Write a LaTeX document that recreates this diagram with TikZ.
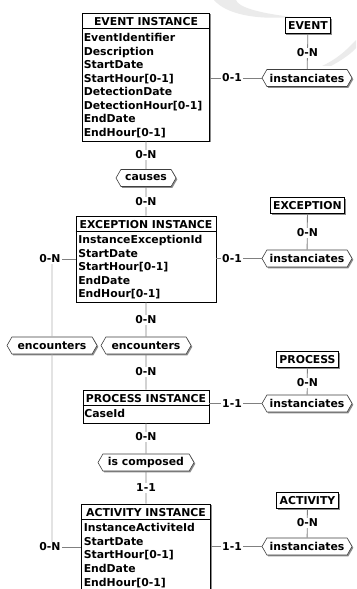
\documentclass[tikz,border=0pt]{standalone}
\usepackage{fontspec}
\setmainfont{DejaVu Sans}
\usetikzlibrary{shapes.symbols,shadows}
\begin{document}
\begin{tikzpicture}[x=1bp,y=-1bp]
\tikzset{
 txt/.style={font=\fontsize{10.9}{13.5}\selectfont\bfseries, text=black},
 shad/.style={drop shadow={shadow xshift=1.3bp, shadow yshift=-1.3bp, fill=black!45, opacity=1}},
 entbox/.style={draw=black, line width=0.8bp, fill=white, inner sep=0pt, shad},
 smallent/.style={entbox, txt, inner xsep=3bp, inner ysep=0pt, minimum height=16bp},
 rel/.style={signal, signal to=east and west, signal pointer angle=120, draw=black!75, line width=0.6bp, fill=white, txt, inner xsep=2bp, inner ysep=0pt, minimum height=17bp, shad},
 lab/.style={txt, fill=white, inner sep=1bp},
 conn/.style={draw=black!50, line width=0.8bp},
 connlight/.style={draw=black!30, line width=0.8bp},
 hdr/.style={txt, inner sep=0pt, anchor=base},
 attr/.style={txt, inner sep=0pt, anchor=base west},
 sepline/.style={draw=black, line width=0.8bp},
}
\useasboundingbox (0,0) rectangle (356,589);
\fill[white] (0,0) rectangle (356,589);
% watermark swooshes (light)
\fill[black!8] (214,0) .. controls (226,14) and (255,20) .. (292,17) .. controls (258,13) and (238,7) .. (236,0) -- cycle;
\fill[black!8] (356,40) .. controls (345,52) and (335,60) .. (322,66) -- (331,66) .. controls (342,60) and (352,53) .. (356,48) -- cycle;

% EVENT INSTANCE
\node[entbox, minimum width=127bp, minimum height=128bp] (ei) at (146,77) {};
\node[hdr] (eih) at ([yshift=-13.2bp]ei.north) {EVENT INSTANCE};
\draw[sepline] ([yshift=-16bp]ei.north west) -- ([yshift=-16bp]ei.north east);
\foreach \t [count=\i] in {{EventIdentifier},{Description},{StartDate},{StartHour[0-1]},{DetectionDate},{DetectionHour[0-1]},{EndDate},{EndHour[0-1]}}
  \node[attr] (ei-a\i) at ([xshift=1.5bp, yshift={-29bp-(\i-1)*13.5bp}]ei.north west) {\t};

% EXCEPTION INSTANCE
\node[entbox, minimum width=140bp, minimum height=86bp] (exi) at (146,259) {};
\node[hdr] (exih) at ([yshift=-13bp]exi.north) {EXCEPTION INSTANCE};
\draw[sepline] ([yshift=-15.5bp]exi.north west) -- ([yshift=-15.5bp]exi.north east);
\foreach \t [count=\i] in {{InstanceExceptionId},{StartDate},{StartHour[0-1]},{EndDate},{EndHour[0-1]}}
  \node[attr] (exi-a\i) at ([xshift=2.5bp, yshift={-28bp-(\i-1)*13.5bp}]exi.north west) {\t};

% PROCESS INSTANCE
\node[entbox, minimum width=126bp, minimum height=33bp] (pi) at (146,406.5) {};
\node[hdr] (pih) at ([yshift=-12.8bp]pi.north) {PROCESS INSTANCE};
\draw[sepline] ([yshift=-16bp]pi.north west) -- ([yshift=-16bp]pi.north east);
\node[attr] (pi-a1) at ([xshift=1.5bp, yshift=-27.5bp]pi.north west) {CaseId};

% ACTIVITY INSTANCE
\node[entbox, minimum width=129bp, minimum height=86bp] (ai) at (146,547) {};
\node[hdr] (aih) at ([yshift=-13bp]ai.north) {ACTIVITY INSTANCE};
\draw[sepline] ([yshift=-16bp]ai.north west) -- ([yshift=-16bp]ai.north east);
\foreach \t [count=\i] in {{InstanceActiviteId},{StartDate},{StartHour[0-1]},{EndDate},{EndHour[0-1]}}
  \node[attr] (ai-a\i) at ([xshift=2.5bp, yshift={-28bp-(\i-1)*13.6bp}]ai.north west) {\t};

% small entities
\node[smallent] (ev) at (308,25.5) {EVENT};
\node[smallent] (exc) at (307.5,205.5) {EXCEPTION};
\node[smallent] (proc) at (307.5,359.5) {PROCESS};
\node[smallent] (act) at (307.5,500.5) {ACTIVITY};

% relations
\node[rel, minimum width=90bp] (evh) at (307,78) {instanciates};
\node[rel, minimum width=90bp] (exh) at (307,258.5) {instanciates};
\node[rel, minimum width=90bp] (prh) at (307,403.5) {instanciates};
\node[rel, minimum width=90bp] (ach) at (307,546.5) {instanciates};
\node[rel, minimum width=60bp] (cau) at (146,178) {causes};
\node[rel, minimum width=90bp] (enc) at (146,345.5) {encounters};
\node[rel, minimum width=90bp] (lenc) at (52,345.5) {encounters};
\node[rel, minimum width=96bp] (comp) at (146,462.5) {is composed};

% connectors
\draw[conn] (ei) -- (cau) -- (exi) -- (enc) -- (pi) -- (comp) -- (ai);
\draw[conn] (ev) -- (evh);
\draw[conn] (exc) -- (exh);
\draw[conn] (proc) -- (prh);
\draw[conn] (act) -- (ach);
\draw[conn] (evh.west) -- (evh.west -| ei.east);
\draw[conn] (exh.west) -- (exh.west -| exi.east);
\draw[conn] (prh.west) -- (prh.west -| pi.east);
\draw[conn] (ach.west) -- (ach.west -| ai.east);
\coordinate (lc1) at (52,259);
\coordinate (lc2) at (52,547);
\draw[conn] (exi.west) -- (lc1);
\draw[connlight] (lc1) -- (lenc) -- (lc2);
\draw[conn] (lc2) -- (ai.west);

% cardinality labels
\node[lab] (c1) at (146,155) {0-N};
\node[lab] (c2) at (146,202) {0-N};
\node[lab] (c3) at (146,320) {0-N};
\node[lab] (c4) at (146,372) {0-N};
\node[lab] (c5) at (146,437) {0-N};
\node[lab] (c6) at (146,488) {1-1};
\node[lab] (r1) at (307.5,53) {0-N};
\node[lab] (r2) at (307.5,233) {0-N};
\node[lab] (r3) at (307.5,383) {0-N};
\node[lab] (r4) at (307.5,523) {0-N};
\node[lab] (h1) at (232,78) {0-1};
\node[lab] (h2) at (232,258.5) {0-1};
\node[lab] (h3) at (232,403.5) {1-1};
\node[lab] (h4) at (232,546.5) {1-1};
\node[lab] (l1) at (50,259) {0-N};
\node[lab] (l2) at (50,547) {0-N};
\end{tikzpicture}
\end{document}
